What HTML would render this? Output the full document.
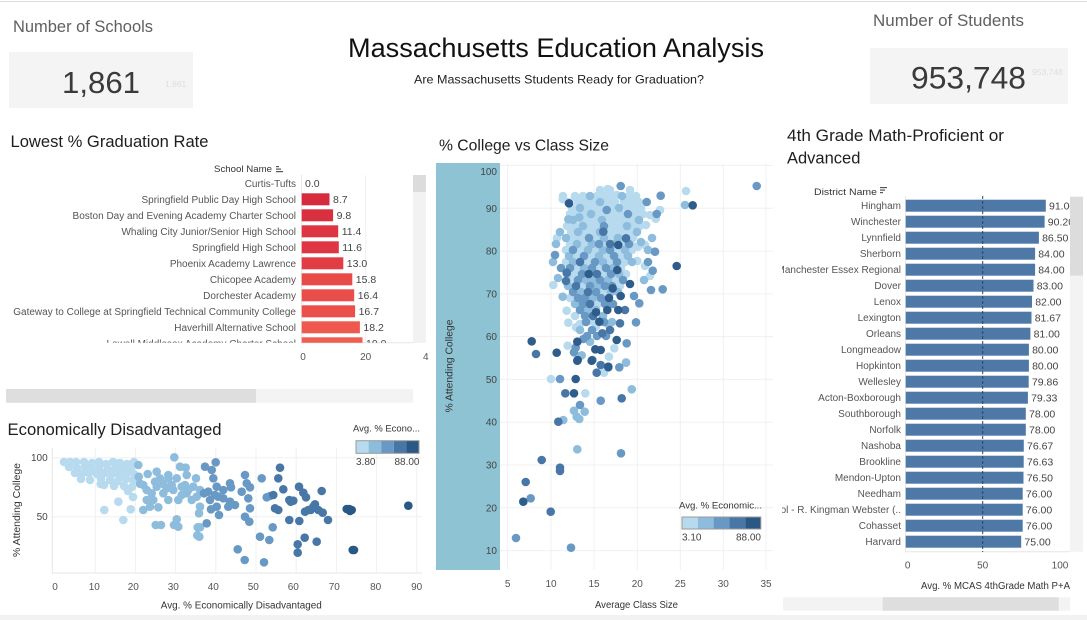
<!DOCTYPE html>
<html><head><meta charset="utf-8"><style>
html,body{margin:0;padding:0;background:#fff;}
svg{display:block;font-family:"Liberation Sans",Arial,sans-serif;}
svg circle{r:4.3px;}
</style></head><body>
<svg width="1087" height="620" viewBox="0 0 1087 620" xmlns="http://www.w3.org/2000/svg">
<defs>
<clipPath id="clipL"><rect x="0" y="175" width="413" height="167.7"/></clipPath>
<clipPath id="clipR"><rect x="782" y="196" width="288" height="356"/></clipPath>
<clipPath id="clipM"><rect x="500" y="163" width="273" height="407"/></clipPath>
<clipPath id="clipB"><rect x="52" y="446" width="372" height="128"/></clipPath>
<clipPath id="kpi1"><rect x="9" y="52" width="184" height="56"/></clipPath>
<clipPath id="kpi2"><rect x="870" y="48" width="198" height="56"/></clipPath>
</defs>
<rect width="1087" height="620" fill="#fff"/>
<line x1="0" y1="1.5" x2="1087" y2="1.5" stroke="#dcdcdc" stroke-width="1"/>
<rect x="0" y="615" width="1087" height="5" fill="#f2f2f2"/>

<!-- KPI left -->
<text x="13" y="32" font-size="16.5" fill="#606060" textLength="140" lengthAdjust="spacingAndGlyphs">Number of Schools</text>
<rect x="9" y="52" width="184" height="56" fill="#f4f4f4"/>
<text x="62" y="93" font-size="31" fill="#3a3a3a" textLength="78" lengthAdjust="spacingAndGlyphs">1,861</text>
<g clip-path="url(#kpi1)"><text x="165" y="87" font-size="8.5" fill="#dedede">1,861</text></g>

<!-- Title -->
<text x="348" y="57" font-size="27" fill="#111" textLength="416" lengthAdjust="spacingAndGlyphs">Massachusetts Education Analysis</text>
<text x="414" y="83.5" font-size="12" fill="#222" textLength="290" lengthAdjust="spacingAndGlyphs">Are Massachusetts Students Ready for Graduation?</text>

<!-- KPI right -->
<text x="873" y="26" font-size="17" fill="#606060" textLength="151" lengthAdjust="spacingAndGlyphs">Number of Students</text>
<rect x="870" y="48" width="198" height="56" fill="#f4f4f4"/>
<text x="911" y="88.5" font-size="31.5" fill="#3a3a3a" textLength="115" lengthAdjust="spacingAndGlyphs">953,748</text>
<g clip-path="url(#kpi2)"><text x="1032" y="75" font-size="8.5" fill="#dedede">953,748</text></g>

<!-- Section titles -->
<text x="10.5" y="147" font-size="16.5" fill="#1e1e1e" textLength="198" lengthAdjust="spacingAndGlyphs">Lowest % Graduation Rate</text>
<text x="439" y="150.7" font-size="16" fill="#1e1e1e" textLength="170" lengthAdjust="spacingAndGlyphs">% College vs Class Size</text>
<text x="787" y="141" font-size="16.5" fill="#1e1e1e" textLength="217" lengthAdjust="spacingAndGlyphs">4th Grade Math-Proficient or</text>
<text x="787" y="163.3" font-size="16.5" fill="#1e1e1e">Advanced</text>
<text x="7.5" y="435" font-size="16.5" fill="#1e1e1e" textLength="214" lengthAdjust="spacingAndGlyphs">Economically Disadvantaged</text>

<!-- ============ LEFT BAR CHART ============ -->
<text x="214" y="172" font-size="9.5" fill="#333" textLength="58" lengthAdjust="spacingAndGlyphs">School Name</text>
<g fill="#555"><rect x="276" y="166" width="3" height="1.2"/><rect x="276" y="168.5" width="5" height="1.2"/><rect x="276" y="171" width="7" height="1.2"/></g>
<rect x="413" y="175" width="13" height="168" fill="#f2f2f2"/>
<rect x="413" y="175" width="13" height="17" fill="#dcdcdc"/>
<line x1="301.5" y1="175" x2="301.5" y2="343" stroke="#e8e8e8"/>
<line x1="365.7" y1="175" x2="365.7" y2="343" stroke="#efefef"/>
<line x1="301" y1="342.7" x2="413" y2="342.7" stroke="#e6e6e6"/>
<g clip-path="url(#clipL)" font-size="10" fill="#555">
<g text-anchor="end">
<text x="296" y="186.8">Curtis-Tufts</text>
<text x="296" y="202.8">Springfield Public Day High School</text>
<text x="296" y="218.8">Boston Day and Evening Academy Charter School</text>
<text x="296" y="234.8">Whaling City Junior/Senior High School</text>
<text x="296" y="250.8">Springfield High School</text>
<text x="296" y="266.8">Phoenix Academy Lawrence</text>
<text x="296" y="282.8">Chicopee Academy</text>
<text x="296" y="298.8">Dorchester Academy</text>
<text x="296" y="314.8">Gateway to College at Springfield Technical Community College</text>
<text x="296" y="330.8">Haverhill Alternative School</text>
<text x="296" y="346.8">Lowell Middlesex Academy Charter School</text>
</g>
<rect x="301.7" y="193.3" width="27.8" height="12" fill="#d62b3d"/>
<rect x="301.7" y="209.3" width="31.4" height="12" fill="#d93040"/>
<rect x="301.7" y="225.3" width="36.5" height="12" fill="#dd3642"/>
<rect x="301.7" y="241.3" width="37.1" height="12" fill="#de3743"/>
<rect x="301.7" y="257.3" width="41.6" height="12" fill="#e13d45"/>
<rect x="301.7" y="273.3" width="50.6" height="12" fill="#e84a48"/>
<rect x="301.7" y="289.3" width="52.5" height="12" fill="#ea4e4a"/>
<rect x="301.7" y="305.3" width="53.4" height="12" fill="#eb504b"/>
<rect x="301.7" y="321.3" width="58.2" height="12" fill="#ef584e"/>
<rect x="301.7" y="337.3" width="60.8" height="12" fill="#f15d50"/>
<g font-size="10.5" fill="#444">
<text x="305" y="187">0.0</text>
<text x="333" y="203">8.7</text>
<text x="336.6" y="219">9.8</text>
<text x="341.7" y="235">11.4</text>
<text x="342.3" y="251">11.6</text>
<text x="346.8" y="267">13.0</text>
<text x="355.8" y="283">15.8</text>
<text x="357.7" y="299">16.4</text>
<text x="358.6" y="315">16.7</text>
<text x="363.4" y="331">18.2</text>
<text x="366" y="347">19.0</text>
</g>
</g>
<g font-size="10" fill="#555" text-anchor="middle">
<text x="303" y="360">0</text>
<text x="365.7" y="360">20</text>
</g>
<text x="423" y="360" font-size="10" fill="#555">4</text>
<rect x="6" y="389" width="407" height="13.7" fill="#f3f3f3"/>
<rect x="6" y="389" width="250" height="13.7" fill="#dedede"/>

<!-- ============ RIGHT BAR CHART ============ -->
<text x="814" y="195" font-size="9.5" fill="#333" textLength="63" lengthAdjust="spacingAndGlyphs">District Name</text>
<g fill="#555"><rect x="880" y="187" width="7" height="1.2"/><rect x="880" y="189.5" width="5" height="1.2"/><rect x="880" y="192" width="3" height="1.2"/></g>
<line x1="905.5" y1="196" x2="905.5" y2="552" stroke="#e8e8e8"/>
<line x1="905" y1="551.7" x2="1070" y2="551.7" stroke="#e6e6e6"/>
<g clip-path="url(#clipR)">
<g font-size="10" fill="#555" text-anchor="end">
<text x="901" y="209.2">Hingham</text>
<text x="901" y="225.2">Winchester</text>
<text x="901" y="241.2">Lynnfield</text>
<text x="901" y="257.2">Sherborn</text>
<text x="901" y="273.2">Manchester Essex Regional</text>
<text x="901" y="289.2">Dover</text>
<text x="901" y="305.2">Lenox</text>
<text x="901" y="321.2">Lexington</text>
<text x="901" y="337.2">Orleans</text>
<text x="901" y="353.2">Longmeadow</text>
<text x="901" y="369.2">Hopkinton</text>
<text x="901" y="385.2">Wellesley</text>
<text x="901" y="401.2">Acton-Boxborough</text>
<text x="901" y="417.2">Southborough</text>
<text x="901" y="433.2">Norfolk</text>
<text x="901" y="449.2">Nashoba</text>
<text x="901" y="465.2">Brookline</text>
<text x="901" y="481.2">Mendon-Upton</text>
<text x="901" y="497.2">Needham</text>
<text x="901" y="513.2">Regional School - R. Kingman Webster (..</text>
<text x="901" y="529.2">Cohasset</text>
<text x="901" y="545.2">Harvard</text>
</g>
<g fill="#4e79a7">
<rect x="905.7" y="199.7" width="140.1" height="12"/>
<rect x="905.7" y="215.7" width="138.9" height="12"/>
<rect x="905.7" y="231.7" width="133.2" height="12"/>
<rect x="905.7" y="247.7" width="129.4" height="12"/>
<rect x="905.7" y="263.7" width="129.4" height="12"/>
<rect x="905.7" y="279.7" width="127.8" height="12"/>
<rect x="905.7" y="295.7" width="126.3" height="12"/>
<rect x="905.7" y="311.7" width="125.8" height="12"/>
<rect x="905.7" y="327.7" width="124.7" height="12"/>
<rect x="905.7" y="343.7" width="123.2" height="12"/>
<rect x="905.7" y="359.7" width="123.2" height="12"/>
<rect x="905.7" y="375.7" width="123.0" height="12"/>
<rect x="905.7" y="391.7" width="122.2" height="12"/>
<rect x="905.7" y="407.7" width="120.1" height="12"/>
<rect x="905.7" y="423.7" width="120.1" height="12"/>
<rect x="905.7" y="439.7" width="118.1" height="12"/>
<rect x="905.7" y="455.7" width="118.0" height="12"/>
<rect x="905.7" y="471.7" width="117.8" height="12"/>
<rect x="905.7" y="487.7" width="117.0" height="12"/>
<rect x="905.7" y="503.7" width="117.0" height="12"/>
<rect x="905.7" y="519.7" width="117.0" height="12"/>
<rect x="905.7" y="535.7" width="115.5" height="12"/>
</g>
<g font-size="10.5" fill="#444">
<text x="1049" y="209.5">91.00</text>
<text x="1047.8" y="225.5">90.20</text>
<text x="1042.1" y="241.5">86.50</text>
<text x="1038.3" y="257.5">84.00</text>
<text x="1038.3" y="273.5">84.00</text>
<text x="1036.7" y="289.5">83.00</text>
<text x="1035.2" y="305.5">82.00</text>
<text x="1034.7" y="321.5">81.67</text>
<text x="1033.6" y="337.5">81.00</text>
<text x="1032.1" y="353.5">80.00</text>
<text x="1032.1" y="369.5">80.00</text>
<text x="1031.9" y="385.5">79.86</text>
<text x="1031.1" y="401.5">79.33</text>
<text x="1029" y="417.5">78.00</text>
<text x="1029" y="433.5">78.00</text>
<text x="1027" y="449.5">76.67</text>
<text x="1026.9" y="465.5">76.63</text>
<text x="1026.7" y="481.5">76.50</text>
<text x="1025.9" y="497.5">76.00</text>
<text x="1025.9" y="513.5">76.00</text>
<text x="1025.9" y="529.5">76.00</text>
<text x="1024.4" y="545.5">75.00</text>
</g>
<line x1="982.7" y1="196" x2="982.7" y2="552" stroke="#2c4460" stroke-width="1" stroke-dasharray="3,2"/>
</g>
<rect x="1070" y="196.7" width="13" height="355" fill="#f3f3f3"/>
<rect x="1070" y="196.7" width="13" height="79" fill="#dcdcdc"/>
<g font-size="10" fill="#555" text-anchor="middle">
<text x="907.7" y="568.5">0</text>
<text x="982.7" y="568.5">50</text>
<text x="1060" y="568.5">100</text>
</g>
<text x="1070" y="589" font-size="10" fill="#333" text-anchor="end" textLength="149" lengthAdjust="spacingAndGlyphs">Avg. % MCAS 4thGrade Math P+A</text>
<rect x="783" y="597.3" width="287" height="13.4" fill="#f3f3f3"/>
<rect x="882.7" y="597.3" width="176" height="13.4" fill="#dedede"/>

<!-- ============ MIDDLE SCATTER ============ -->
<rect x="436" y="163" width="64" height="407" fill="#8dc3d3"/>
<g stroke="#f0f0f0" stroke-width="1">
<line x1="500" y1="165.4" x2="773" y2="165.4"/>
<line x1="500" y1="208.3" x2="773" y2="208.3"/>
<line x1="500" y1="251.1" x2="773" y2="251.1"/>
<line x1="500" y1="293.9" x2="773" y2="293.9"/>
<line x1="500" y1="336.6" x2="773" y2="336.6"/>
<line x1="500" y1="379.4" x2="773" y2="379.4"/>
<line x1="500" y1="422.2" x2="773" y2="422.2"/>
<line x1="500" y1="465" x2="773" y2="465"/>
<line x1="500" y1="507.8" x2="773" y2="507.8"/>
<line x1="500" y1="550.6" x2="773" y2="550.6"/>
<line x1="507.7" y1="163" x2="507.7" y2="570"/>
<line x1="551" y1="163" x2="551" y2="570"/>
<line x1="594" y1="163" x2="594" y2="570"/>
<line x1="637.3" y1="163" x2="637.3" y2="570"/>
<line x1="680.3" y1="163" x2="680.3" y2="570"/>
<line x1="723.3" y1="163" x2="723.3" y2="570"/>
<line x1="766" y1="163" x2="766" y2="570"/>
</g>
<g font-size="10" fill="#444" text-anchor="end">
<text x="497" y="175.2">100</text>
<text x="497" y="211.8">90</text>
<text x="497" y="254.6">80</text>
<text x="497" y="297.4">70</text>
<text x="497" y="340.1">60</text>
<text x="497" y="382.9">50</text>
<text x="497" y="425.7">40</text>
<text x="497" y="468.5">30</text>
<text x="497" y="511.3">20</text>
<text x="497" y="554.1">10</text>
</g>
<text transform="translate(452.5,366) rotate(-90)" font-size="10" fill="#333" text-anchor="middle" textLength="93" lengthAdjust="spacingAndGlyphs">% Attending College</text>
<g font-size="10" fill="#555" text-anchor="middle">
<text x="507.7" y="587">5</text>
<text x="551" y="587">10</text>
<text x="594" y="587">15</text>
<text x="637.3" y="587">20</text>
<text x="680.3" y="587">25</text>
<text x="723.3" y="587">30</text>
<text x="766" y="587">35</text>
</g>
<text x="636.5" y="608" font-size="10" fill="#333" text-anchor="middle" textLength="83" lengthAdjust="spacingAndGlyphs">Average Class Size</text>

<g clip-path="url(#clipM)">
<g fill="#b7daef">
<circle cx="600" cy="190" r="4"/><circle cx="610" cy="190" r="4"/><circle cx="630" cy="190" r="4"/>
<circle cx="563" cy="196" r="4"/><circle cx="575" cy="196" r="4"/><circle cx="583" cy="196" r="4"/><circle cx="597" cy="196" r="4"/><circle cx="605" cy="196" r="4"/><circle cx="613" cy="196" r="4"/><circle cx="629" cy="196" r="4"/><circle cx="636" cy="196" r="4"/>
<circle cx="568" cy="202" r="4"/><circle cx="578" cy="202" r="4"/><circle cx="585" cy="202" r="4"/><circle cx="592" cy="202" r="4"/><circle cx="608" cy="202" r="4"/><circle cx="615" cy="202" r="4"/><circle cx="624" cy="202" r="4"/><circle cx="631" cy="202" r="4"/><circle cx="639" cy="202" r="4"/>
<circle cx="572" cy="208" r="4"/><circle cx="588" cy="208" r="4"/><circle cx="595" cy="208" r="4"/><circle cx="603" cy="208" r="4"/><circle cx="611" cy="208" r="4"/><circle cx="627" cy="208" r="4"/><circle cx="634" cy="208" r="4"/><circle cx="641" cy="208" r="4"/>
<circle cx="570" cy="214" r="4"/><circle cx="577" cy="214" r="4"/><circle cx="584" cy="214" r="4"/><circle cx="598" cy="214" r="4"/><circle cx="606" cy="214" r="4"/><circle cx="613" cy="214" r="4"/><circle cx="621" cy="214" r="4"/><circle cx="636" cy="214" r="4"/><circle cx="643" cy="214" r="4"/>
<circle cx="581" cy="220" r="4"/><circle cx="588" cy="220" r="4"/><circle cx="595" cy="220" r="4"/><circle cx="610" cy="220" r="4"/><circle cx="617" cy="220" r="4"/><circle cx="624" cy="220" r="4"/><circle cx="632" cy="220" r="4"/>
<circle cx="567" cy="226" r="4"/><circle cx="575" cy="226" r="4"/><circle cx="590" cy="226" r="4"/><circle cx="597" cy="226" r="4"/><circle cx="612" cy="226" r="4"/><circle cx="619" cy="226" r="4"/><circle cx="634" cy="226" r="4"/><circle cx="640" cy="226" r="4"/>
<circle cx="571" cy="232" r="4"/><circle cx="586" cy="232" r="4"/><circle cx="593" cy="232" r="4"/><circle cx="607" cy="232" r="4"/><circle cx="615" cy="232" r="4"/><circle cx="622" cy="232" r="4"/><circle cx="629" cy="232" r="4"/>
<circle cx="574" cy="238" r="4"/><circle cx="581" cy="238" r="4"/><circle cx="596" cy="238" r="4"/><circle cx="611" cy="238" r="4"/><circle cx="626" cy="238" r="4"/><circle cx="633" cy="238" r="4"/>
<circle cx="570" cy="244" r="4"/><circle cx="585" cy="244" r="4"/><circle cx="607" cy="244" r="4"/><circle cx="622" cy="244" r="4"/>
<circle cx="566" cy="250" r="4"/><circle cx="581" cy="250" r="4"/><circle cx="596" cy="250" r="4"/><circle cx="618" cy="250" r="4"/><circle cx="632" cy="250" r="4"/>
<circle cx="577" cy="256" r="4"/><circle cx="592" cy="256" r="4"/><circle cx="606" cy="256" r="4"/><circle cx="621" cy="256" r="4"/>
<circle cx="566" cy="262" r="4"/><circle cx="588" cy="262" r="4"/><circle cx="610" cy="262" r="4"/><circle cx="625" cy="262" r="4"/>
<circle cx="577" cy="268" r="4"/><circle cx="599" cy="268" r="4"/><circle cx="621" cy="268" r="4"/>
<circle cx="575" cy="274" r="4"/><circle cx="604" cy="274" r="4"/><circle cx="626" cy="274" r="4"/>
<circle cx="571" cy="280" r="4"/><circle cx="615" cy="280" r="4"/><circle cx="583" cy="286" r="4"/><circle cx="620" cy="286" r="4"/>
<circle cx="603" cy="292" r="4"/><circle cx="570" cy="298" r="4"/><circle cx="598" cy="304" r="4"/><circle cx="575" cy="316" r="4"/>
<circle cx="557" cy="238" r="4"/><circle cx="645" cy="245" r="4"/><circle cx="650" cy="276" r="4"/>
<circle cx="686" cy="191" r="4"/><circle cx="655.7" cy="218.7" r="4"/><circle cx="660" cy="210" r="4"/><circle cx="567.7" cy="345.7" r="4"/><circle cx="626" cy="362.3" r="4"/><circle cx="609" cy="356.7" r="4"/><circle cx="614.3" cy="348.3" r="4"/><circle cx="553.3" cy="285" r="4"/><circle cx="566.7" cy="310.7" r="4"/><circle cx="568.3" cy="322.7" r="4"/><circle cx="576" cy="327.3" r="4"/><circle cx="580" cy="324" r="4"/><circle cx="591" cy="321" r="4"/><circle cx="596" cy="326.7" r="4"/><circle cx="637.3" cy="261" r="4"/><circle cx="645" cy="266" r="4"/><circle cx="634" cy="246.7" r="4"/><circle cx="638" cy="246.7" r="4"/><circle cx="604" cy="372.7" r="4"/><circle cx="551" cy="379" r="4"/><circle cx="585.3" cy="393.3" r="4"/><circle cx="562.7" cy="199" r="4"/><circle cx="575" cy="197.3" r="4"/><circle cx="589" cy="197.7" r="4"/><circle cx="607.7" cy="189" r="4"/><circle cx="616.7" cy="195" r="4"/><circle cx="626.7" cy="198.3" r="4"/><circle cx="634" cy="203.3" r="4"/><circle cx="646" cy="225" r="4"/><circle cx="650" cy="215" r="4"/>
</g>
<g fill="#8dbcdd">
<circle cx="590" cy="196" r="4"/><circle cx="622" cy="196" r="4"/><circle cx="600" cy="202" r="4"/><circle cx="580" cy="208" r="4"/><circle cx="619" cy="208" r="4"/><circle cx="591" cy="214" r="4"/><circle cx="573" cy="220" r="4"/><circle cx="602" cy="220" r="4"/><circle cx="639" cy="220" r="4"/><circle cx="583" cy="226" r="4"/><circle cx="627" cy="226" r="4"/><circle cx="578" cy="232" r="4"/><circle cx="600" cy="232" r="4"/><circle cx="637" cy="232" r="4"/><circle cx="566" cy="238" r="4"/><circle cx="604" cy="238" r="4"/><circle cx="618" cy="238" r="4"/><circle cx="577" cy="244" r="4"/><circle cx="592" cy="244" r="4"/><circle cx="614" cy="244" r="4"/><circle cx="588" cy="250" r="4"/><circle cx="603" cy="250" r="4"/><circle cx="625" cy="250" r="4"/><circle cx="569" cy="256" r="4"/><circle cx="599" cy="256" r="4"/><circle cx="628" cy="256" r="4"/><circle cx="573" cy="262" r="4"/><circle cx="603" cy="262" r="4"/><circle cx="632" cy="262" r="4"/><circle cx="584" cy="268" r="4"/><circle cx="613" cy="268" r="4"/><circle cx="567" cy="274" r="4"/><circle cx="590" cy="274" r="4"/><circle cx="619" cy="274" r="4"/><circle cx="586" cy="280" r="4"/><circle cx="608" cy="280" r="4"/><circle cx="568" cy="286" r="4"/><circle cx="598" cy="286" r="4"/><circle cx="581" cy="292" r="4"/><circle cx="618" cy="292" r="4"/><circle cx="593" cy="298" r="4"/><circle cx="575" cy="304" r="4"/><circle cx="596" cy="310" r="4"/><circle cx="603" cy="316" r="4"/><circle cx="612" cy="322" r="4"/>
<circle cx="593" cy="280" r="4"/><circle cx="611" cy="292" r="4"/><circle cx="588" cy="310" r="4"/><circle cx="580" cy="330" r="4"/>
<circle cx="556" cy="244" r="4"/><circle cx="553" cy="262" r="4"/><circle cx="558" cy="278" r="4"/><circle cx="648" cy="250" r="4"/><circle cx="652" cy="238" r="4"/><circle cx="644" cy="280" r="4"/><circle cx="560" cy="232" r="4"/>
<circle cx="685" cy="205" r="4"/><circle cx="568.3" cy="219.3" r="4"/><circle cx="579.3" cy="217.3" r="4"/><circle cx="590" cy="341.7" r="4"/><circle cx="581.7" cy="355.3" r="4"/><circle cx="562.7" cy="296.7" r="4"/><circle cx="608" cy="324" r="4"/><circle cx="641" cy="242" r="4"/><circle cx="626" cy="362.7" r="4"/><circle cx="631.7" cy="389.3" r="4"/><circle cx="574" cy="410.7" r="4"/><circle cx="584.7" cy="411.7" r="4"/><circle cx="576.7" cy="416.7" r="4"/><circle cx="579.3" cy="419" r="4"/><circle cx="563.3" cy="420" r="4"/><circle cx="577.3" cy="449.3" r="4"/>
</g>
<g fill="#6898c4">
<circle cx="628" cy="214" r="4"/><circle cx="604" cy="226" r="4"/><circle cx="589" cy="238" r="4"/><circle cx="599" cy="244" r="4"/><circle cx="629" cy="244" r="4"/><circle cx="573" cy="250" r="4"/><circle cx="584" cy="256" r="4"/><circle cx="614" cy="256" r="4"/><circle cx="595" cy="262" r="4"/><circle cx="617" cy="262" r="4"/><circle cx="570" cy="268" r="4"/><circle cx="606" cy="268" r="4"/><circle cx="582" cy="274" r="4"/><circle cx="611" cy="274" r="4"/><circle cx="578" cy="280" r="4"/><circle cx="600" cy="280" r="4"/><circle cx="623" cy="280" r="4"/><circle cx="590" cy="286" r="4"/><circle cx="612" cy="286" r="4"/><circle cx="573" cy="292" r="4"/><circle cx="596" cy="292" r="4"/><circle cx="578" cy="298" r="4"/><circle cx="601" cy="298" r="4"/><circle cx="583" cy="304" r="4"/><circle cx="605" cy="304" r="4"/><circle cx="580" cy="310" r="4"/><circle cx="585" cy="316" r="4"/><circle cx="586" cy="322" r="4"/><circle cx="592" cy="330" r="4"/><circle cx="587" cy="336" r="4"/><circle cx="606" cy="336" r="4"/>
<circle cx="610" cy="250" r="4"/><circle cx="592" cy="268" r="4"/><circle cx="605" cy="286" r="4"/><circle cx="585" cy="298" r="4"/><circle cx="613" cy="304" r="4"/><circle cx="604" cy="322" r="4"/><circle cx="597" cy="336" r="4"/>
<circle cx="555" cy="255" r="4"/><circle cx="648" cy="262" r="4"/><circle cx="651" cy="290" r="4"/><circle cx="561" cy="268" r="4"/>
<circle cx="620.7" cy="186" r="4"/><circle cx="606.7" cy="210" r="4"/><circle cx="646.7" cy="202" r="4"/><circle cx="660.7" cy="195.7" r="4"/><circle cx="656.7" cy="214" r="4"/><circle cx="756.7" cy="186" r="4"/><circle cx="655" cy="251.7" r="4"/><circle cx="652.7" cy="270.7" r="4"/><circle cx="634" cy="296" r="4"/><circle cx="639.3" cy="303.3" r="4"/><circle cx="662.7" cy="289.3" r="4"/><circle cx="636" cy="322.3" r="4"/><circle cx="626.7" cy="343.3" r="4"/><circle cx="575.7" cy="347.7" r="4"/><circle cx="574" cy="352.3" r="4"/><circle cx="583.3" cy="339" r="4"/><circle cx="619.3" cy="367.3" r="4"/><circle cx="560" cy="379" r="4"/><circle cx="600.7" cy="400.7" r="4"/><circle cx="580" cy="405" r="4"/><circle cx="621" cy="453.3" r="4"/><circle cx="530.7" cy="498.3" r="4"/><circle cx="516" cy="538" r="4"/><circle cx="571" cy="547.7" r="4"/>
</g>
<g fill="#4876a7">
<circle cx="580" cy="262" r="4"/><circle cx="597" cy="274" r="4"/><circle cx="576" cy="286" r="4"/><circle cx="588" cy="292" r="4"/><circle cx="590" cy="304" r="4"/><circle cx="593" cy="316" r="4"/><circle cx="610" cy="330" r="4"/>
<circle cx="603.3" cy="231.7" r="4"/><circle cx="626" cy="238.3" r="4"/><circle cx="610" cy="244" r="4"/><circle cx="566.7" cy="272.7" r="4"/><circle cx="566" cy="281" r="4"/><circle cx="625" cy="310" r="4"/><circle cx="620" cy="323.3" r="4"/><circle cx="602.3" cy="333.3" r="4"/><circle cx="536" cy="354" r="4"/><circle cx="592.3" cy="360" r="4"/><circle cx="600.7" cy="365" r="4"/><circle cx="608.3" cy="367.3" r="4"/><circle cx="596.7" cy="372.7" r="4"/><circle cx="565.3" cy="393.3" r="4"/><circle cx="621.7" cy="398.3" r="4"/><circle cx="558.3" cy="421.7" r="4"/><circle cx="541.7" cy="460" r="4"/><circle cx="560" cy="467.7" r="4"/><circle cx="560" cy="471" r="4"/><circle cx="525.7" cy="482" r="4"/><circle cx="550.7" cy="511.7" r="4"/>
</g>
<g fill="#2f5d8b">
<circle cx="609" cy="298" r="4"/><circle cx="569" cy="203.3" r="4"/><circle cx="692.7" cy="205.3" r="4"/><circle cx="618.3" cy="245" r="4"/><circle cx="676.7" cy="266" r="4"/><circle cx="588.7" cy="274" r="4"/><circle cx="617.3" cy="270" r="4"/><circle cx="612.7" cy="288.3" r="4"/><circle cx="620.7" cy="296" r="4"/><circle cx="630" cy="284" r="4"/><circle cx="596" cy="312.3" r="4"/><circle cx="607.3" cy="310" r="4"/><circle cx="618.3" cy="310" r="4"/><circle cx="599.3" cy="321.7" r="4"/><circle cx="531.7" cy="341.3" r="4"/><circle cx="556.7" cy="352.7" r="4"/><circle cx="577.3" cy="341.7" r="4"/><circle cx="577.7" cy="360" r="4"/><circle cx="595.3" cy="349.3" r="4"/><circle cx="600.7" cy="350" r="4"/><circle cx="616.7" cy="340" r="4"/><circle cx="608.3" cy="366.7" r="4"/><circle cx="577.3" cy="360.7" r="4"/><circle cx="591.7" cy="360.7" r="4"/><circle cx="575.7" cy="379" r="4"/><circle cx="574" cy="393.3" r="4"/><circle cx="523.3" cy="501.7" r="4"/>
</g>
</g>
<!-- middle legend -->
<text x="679" y="508.5" font-size="9.5" fill="#333" textLength="83" lengthAdjust="spacingAndGlyphs">Avg. % Economic...</text>
<rect x="682" y="517" width="15.8" height="12" fill="#b7daef"/>
<rect x="697.8" y="517" width="15.8" height="12" fill="#8dbcdd"/>
<rect x="713.6" y="517" width="15.8" height="12" fill="#6898c4"/>
<rect x="729.4" y="517" width="15.8" height="12" fill="#4876a7"/>
<rect x="745.2" y="517" width="15.6" height="12" fill="#2a5885"/>
<rect x="682" y="517" width="78.8" height="12" fill="none" stroke="#9a9a9a" stroke-width="1"/>
<text x="682" y="540.5" font-size="10" fill="#444">3.10</text>
<text x="761" y="540.5" font-size="10" fill="#444" text-anchor="end">88.00</text>

<!-- ============ BOTTOM SCATTER ============ -->
<g stroke="#f0f0f0" stroke-width="1">
<line x1="52" y1="457.7" x2="422" y2="457.7"/>
<line x1="52" y1="516.7" x2="422" y2="516.7"/>
<line x1="95.2" y1="448" x2="95.2" y2="573"/>
<line x1="135.4" y1="448" x2="135.4" y2="573"/>
<line x1="175.6" y1="448" x2="175.6" y2="573"/>
<line x1="215.8" y1="448" x2="215.8" y2="573"/>
<line x1="256" y1="448" x2="256" y2="573"/>
<line x1="296.2" y1="448" x2="296.2" y2="573"/>
<line x1="336.4" y1="448" x2="336.4" y2="573"/>
<line x1="376.6" y1="448" x2="376.6" y2="573"/>
<line x1="416.8" y1="448" x2="416.8" y2="573"/>
</g>
<line x1="52.3" y1="448" x2="52.3" y2="573" stroke="#e6e6e6"/>
<line x1="52" y1="573" x2="422" y2="573" stroke="#e6e6e6"/>
<g font-size="10" fill="#444" text-anchor="end">
<text x="47.7" y="461.2">100</text>
<text x="47.7" y="520.2">50</text>
</g>
<text transform="translate(20,510) rotate(-90)" font-size="10" fill="#333" text-anchor="middle" textLength="94" lengthAdjust="spacingAndGlyphs">% Attending College</text>
<g font-size="10" fill="#555" text-anchor="middle">
<text x="55" y="590">0</text>
<text x="94.3" y="590">10</text>
<text x="133.3" y="590">20</text>
<text x="173.3" y="590">30</text>
<text x="213.3" y="590">40</text>
<text x="253.3" y="590">50</text>
<text x="293.3" y="590">60</text>
<text x="334.3" y="590">70</text>
<text x="375.7" y="590">80</text>
<text x="416.7" y="590">90</text>
</g>
<text x="241.3" y="608.5" font-size="10" fill="#333" text-anchor="middle" textLength="161" lengthAdjust="spacingAndGlyphs">Avg. % Economically Disadvantaged</text>

<g clip-path="url(#clipB)">
<g fill="#b7daef">
<circle cx="64" cy="462" r="4"/><circle cx="70" cy="462" r="4"/><circle cx="76" cy="462" r="4"/><circle cx="84" cy="462" r="4"/><circle cx="92" cy="463" r="4"/><circle cx="99" cy="462" r="4"/><circle cx="106" cy="464" r="4"/><circle cx="113" cy="462" r="4"/><circle cx="120" cy="463" r="4"/><circle cx="127" cy="464" r="4"/><circle cx="134" cy="462" r="4"/>
<circle cx="69" cy="467" r="4"/><circle cx="77" cy="468" r="4"/><circle cx="85" cy="467" r="4"/><circle cx="92" cy="469" r="4"/><circle cx="99" cy="468" r="4"/><circle cx="108" cy="469" r="4"/><circle cx="116" cy="468" r="4"/><circle cx="123" cy="469" r="4"/><circle cx="131" cy="468" r="4"/>
<circle cx="75" cy="473" r="4"/><circle cx="82" cy="474" r="4"/><circle cx="89" cy="473" r="4"/><circle cx="97" cy="474" r="4"/><circle cx="105" cy="473" r="4"/><circle cx="112" cy="474" r="4"/><circle cx="119" cy="475" r="4"/><circle cx="127" cy="473" r="4"/><circle cx="134" cy="474" r="4"/>
<circle cx="81" cy="479" r="4"/><circle cx="90" cy="480" r="4"/><circle cx="101" cy="479" r="4"/><circle cx="110" cy="480" r="4"/><circle cx="118" cy="481" r="4"/><circle cx="126" cy="479" r="4"/><circle cx="133" cy="480" r="4"/>
<circle cx="104" cy="485" r="4"/><circle cx="114" cy="486" r="4"/><circle cx="124" cy="486" r="4"/><circle cx="132" cy="487" r="4"/><circle cx="128" cy="491" r="4"/>
<circle cx="104.3" cy="510" r="4"/><circle cx="123.3" cy="520" r="4"/><circle cx="130.7" cy="509.3" r="4"/><circle cx="118.3" cy="501.7" r="4"/><circle cx="115.7" cy="463.3" r="4"/><circle cx="100.7" cy="484" r="4"/><circle cx="133" cy="497" r="4"/>
</g>
<g fill="#8dbcdd">
<circle cx="174.3" cy="457.3" r="4"/><circle cx="180" cy="466.7" r="4"/><circle cx="185.7" cy="467.7" r="4"/><circle cx="138.3" cy="465" r="4"/><circle cx="147.7" cy="474" r="4"/><circle cx="160" cy="478.3" r="4"/><circle cx="168.3" cy="478.3" r="4"/><circle cx="176.7" cy="478.3" r="4"/><circle cx="156.7" cy="486.7" r="4"/><circle cx="166.7" cy="488.3" r="4"/><circle cx="173.3" cy="490" r="4"/><circle cx="181.7" cy="486.7" r="4"/><circle cx="193.3" cy="486.7" r="4"/><circle cx="186.7" cy="493.3" r="4"/><circle cx="200" cy="490" r="4"/><circle cx="143.3" cy="485" r="4"/><circle cx="151.7" cy="493.3" r="4"/><circle cx="146.7" cy="500" r="4"/><circle cx="158.3" cy="507.3" r="4"/><circle cx="168.3" cy="500" r="4"/><circle cx="178.3" cy="500" r="4"/><circle cx="191.7" cy="500" r="4"/><circle cx="143.3" cy="510" r="4"/><circle cx="150" cy="506.7" r="4"/><circle cx="155.7" cy="525" r="4"/><circle cx="161" cy="525" r="4"/><circle cx="174" cy="525" r="4"/><circle cx="176.7" cy="519.3" r="4"/><circle cx="178.3" cy="526.7" r="4"/><circle cx="197.7" cy="527.3" r="4"/><circle cx="200" cy="527.3" r="4"/><circle cx="197.3" cy="535.3" r="4"/><circle cx="199.3" cy="536.7" r="4"/><circle cx="199" cy="513.3" r="4"/><circle cx="200" cy="506.7" r="4"/><circle cx="196" cy="478.3" r="4"/><circle cx="196.7" cy="496.7" r="4"/><circle cx="155" cy="481.7" r="4"/><circle cx="138.7" cy="476.7" r="4"/><circle cx="140" cy="483.7" r="4"/><circle cx="146.7" cy="490" r="4"/><circle cx="163.3" cy="493.3" r="4"/><circle cx="153.3" cy="500" r="4"/><circle cx="181.7" cy="495" r="4"/><circle cx="185" cy="485" r="4"/><circle cx="188.3" cy="490" r="4"/><circle cx="163.3" cy="484" r="4"/><circle cx="171.7" cy="485" r="4"/><circle cx="156.7" cy="471.7" r="4"/><circle cx="168.3" cy="475" r="4"/><circle cx="186.7" cy="475" r="4"/>
</g>
<g fill="#6898c4">
<circle cx="205" cy="466.7" r="4"/><circle cx="215.7" cy="462.3" r="4"/><circle cx="211.7" cy="470" r="4"/><circle cx="213.3" cy="478.3" r="4"/><circle cx="204" cy="493.3" r="4"/><circle cx="208.3" cy="491.7" r="4"/><circle cx="216.7" cy="486.7" r="4"/><circle cx="223.3" cy="490" r="4"/><circle cx="230" cy="483.3" r="4"/><circle cx="231" cy="487.3" r="4"/><circle cx="218.3" cy="496.7" r="4"/><circle cx="210" cy="500" r="4"/><circle cx="215" cy="495" r="4"/><circle cx="223.3" cy="498.3" r="4"/><circle cx="230" cy="501.7" r="4"/><circle cx="235" cy="505" r="4"/><circle cx="228.3" cy="506.7" r="4"/><circle cx="216.7" cy="506.7" r="4"/><circle cx="211" cy="509.3" r="4"/><circle cx="219" cy="515" r="4"/><circle cx="206.7" cy="523.3" r="4"/><circle cx="245" cy="475" r="4"/><circle cx="246.7" cy="483.3" r="4"/><circle cx="250" cy="487.3" r="4"/><circle cx="241.7" cy="491.7" r="4"/><circle cx="248.3" cy="498.3" r="4"/><circle cx="245" cy="516.7" r="4"/><circle cx="249.3" cy="521.7" r="4"/><circle cx="250" cy="508.3" r="4"/><circle cx="237.7" cy="549.3" r="4"/><circle cx="244.7" cy="560" r="4"/><circle cx="260" cy="536.7" r="4"/><circle cx="264" cy="562.3" r="4"/><circle cx="269.3" cy="540" r="4"/><circle cx="272.7" cy="527.3" r="4"/><circle cx="261.7" cy="478.3" r="4"/><circle cx="266.7" cy="497.3" r="4"/><circle cx="270" cy="496" r="4"/>
</g>
<g fill="#4876a7">
<circle cx="273.3" cy="495" r="4"/><circle cx="275" cy="508.3" r="4"/><circle cx="278.3" cy="510" r="4"/><circle cx="280" cy="467.7" r="4"/><circle cx="278.3" cy="478.3" r="4"/><circle cx="283.3" cy="489.3" r="4"/><circle cx="289.3" cy="500" r="4"/><circle cx="290.7" cy="501.7" r="4"/><circle cx="293.3" cy="500.7" r="4"/><circle cx="289.3" cy="520" r="4"/><circle cx="299" cy="486.7" r="4"/><circle cx="303.3" cy="492.7" r="4"/><circle cx="306" cy="497.3" r="4"/><circle cx="299.3" cy="521" r="4"/><circle cx="297.7" cy="544.3" r="4"/><circle cx="297.7" cy="552.7" r="4"/><circle cx="304.7" cy="537.7" r="4"/><circle cx="316.7" cy="541.7" r="4"/><circle cx="310.7" cy="510" r="4"/><circle cx="313.3" cy="506.7" r="4"/><circle cx="315" cy="504.3" r="4"/><circle cx="321.7" cy="491" r="4"/><circle cx="322.7" cy="512.7" r="4"/><circle cx="328" cy="520" r="4"/><circle cx="305" cy="511.7" r="4"/><circle cx="308.3" cy="510" r="4"/><circle cx="318.3" cy="510" r="4"/>
</g>
<g fill="#2a5885">
<circle cx="346.7" cy="509" r="4"/><circle cx="349.3" cy="509" r="4"/><circle cx="351.7" cy="510" r="4"/><circle cx="350" cy="511" r="4"/><circle cx="354" cy="550" r="4"/><circle cx="352.7" cy="550" r="4"/><circle cx="408.3" cy="505.7" r="4"/>
</g>
</g>
<!-- bottom legend -->
<text x="353" y="431.5" font-size="9.5" fill="#333" textLength="67" lengthAdjust="spacingAndGlyphs">Avg. % Econo...</text>
<rect x="356" y="440.7" width="12.6" height="12.6" fill="#b7daef"/>
<rect x="368.6" y="440.7" width="12.6" height="12.6" fill="#8dbcdd"/>
<rect x="381.2" y="440.7" width="12.6" height="12.6" fill="#6898c4"/>
<rect x="393.8" y="440.7" width="12.6" height="12.6" fill="#4876a7"/>
<rect x="406.4" y="440.7" width="12.6" height="12.6" fill="#2a5885"/>
<rect x="356" y="440.7" width="63" height="12.6" fill="none" stroke="#9a9a9a" stroke-width="1"/>
<text x="356" y="465" font-size="10" fill="#444">3.80</text>
<text x="419.5" y="465" font-size="10" fill="#444" text-anchor="end">88.00</text>
</svg>
</body></html>
